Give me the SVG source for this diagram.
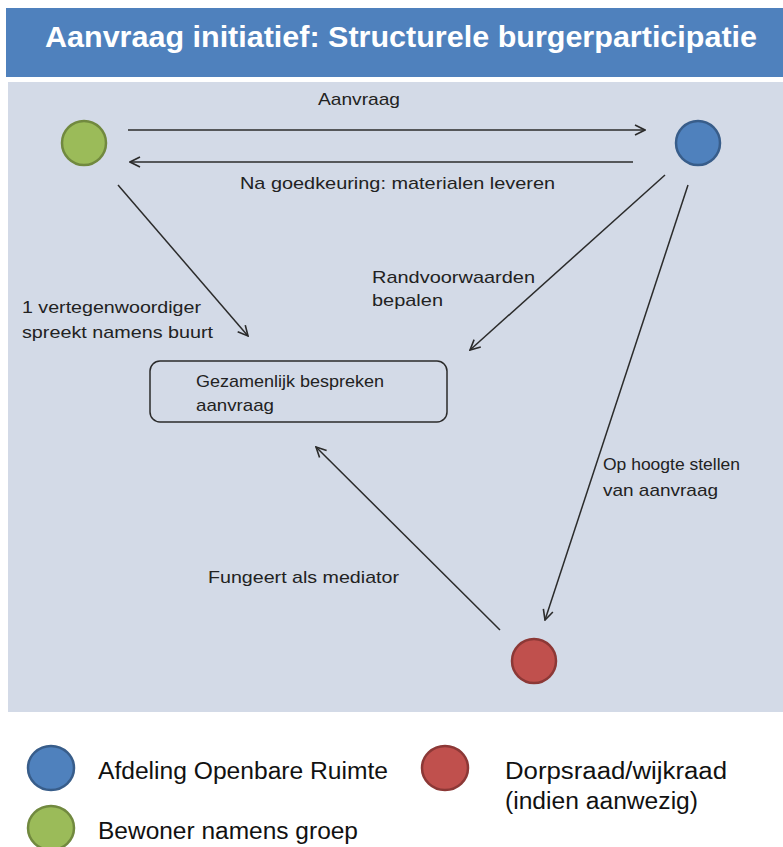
<svg xmlns="http://www.w3.org/2000/svg" width="783" height="847" viewBox="0 0 783 847">
<defs>
<marker id="ah" viewBox="0 0 12 12" refX="11" refY="6" markerWidth="12" markerHeight="12" markerUnits="userSpaceOnUse" orient="auto">
<path d="M1,1 L11,6 L1,11" fill="none" stroke="#2b2b2b" stroke-width="1.6"/>
</marker>
<style>
.lbl{font-family:"Liberation Sans",Arial,sans-serif;font-size:17px;fill:#222}
.leg{font-family:"Liberation Sans",Arial,sans-serif;font-size:23px;fill:#111}
.ttl{font-family:"Liberation Sans",Arial,sans-serif;font-size:29px;font-weight:bold;fill:#fff}
.con{stroke:#2b2b2b;stroke-width:1.5;fill:none;marker-end:url(#ah)}
.blue{fill:#4F81BD;stroke:#385D8A;stroke-width:2.5}
.green{fill:#9BBB59;stroke:#71893F;stroke-width:2.5}
.red{fill:#C0504D;stroke:#8C3836;stroke-width:2.5}
</style>
</defs>
<rect width="783" height="847" fill="#ffffff"/>
<g id="title">
<rect x="6" y="8" width="777" height="69" fill="#4F81BD"/>
<text class="ttl" x="45" y="47" textLength="712" lengthAdjust="spacingAndGlyphs">Aanvraag initiatief: Structurele burgerparticipatie</text>
</g>
<rect id="panel" x="8" y="82" width="775" height="630" fill="#D3DAE7"/>
<g id="connectors">
<line class="con" x1="128" y1="130" x2="645" y2="130"/>
<line class="con" x1="633" y1="162" x2="130" y2="162"/>
<line class="con" x1="118" y1="185" x2="248" y2="336"/>
<line class="con" x1="665" y1="175" x2="470" y2="350"/>
<line class="con" x1="688" y1="185" x2="545" y2="620"/>
<line class="con" x1="500" y1="630" x2="316" y2="447"/>
<text class="lbl" x="318" y="105" textLength="82" lengthAdjust="spacingAndGlyphs">Aanvraag</text>
<text class="lbl" x="240" y="189" textLength="315" lengthAdjust="spacingAndGlyphs">Na goedkeuring: materialen leveren</text>
<text class="lbl" x="372" y="283" textLength="163" lengthAdjust="spacingAndGlyphs">Randvoorwaarden</text>
<text class="lbl" x="372" y="306" textLength="71" lengthAdjust="spacingAndGlyphs">bepalen</text>
<text class="lbl" x="22" y="313" textLength="179" lengthAdjust="spacingAndGlyphs">1 vertegenwoordiger</text>
<text class="lbl" x="22" y="338" textLength="191" lengthAdjust="spacingAndGlyphs">spreekt namens buurt</text>
<text class="lbl" x="603" y="470" textLength="137" lengthAdjust="spacingAndGlyphs">Op hoogte stellen</text>
<text class="lbl" x="603" y="496" textLength="115" lengthAdjust="spacingAndGlyphs">van aanvraag</text>
<text class="lbl" x="208" y="583" textLength="191" lengthAdjust="spacingAndGlyphs">Fungeert als mediator</text>
</g>
<g id="node-bewoner"><circle class="green" cx="84" cy="143" r="22"/></g>
<g id="node-afdeling"><circle class="blue" cx="698" cy="143" r="22"/></g>
<g id="node-dorpsraad"><circle class="red" cx="534" cy="661" r="22"/></g>
<g id="node-bespreken">
<rect x="150" y="361" width="297" height="61" rx="10" fill="none" stroke="#2b2b2b" stroke-width="1.5"/>
<text class="lbl" x="196" y="387" textLength="188" lengthAdjust="spacingAndGlyphs">Gezamenlijk bespreken</text>
<text class="lbl" x="196" y="411" textLength="78" lengthAdjust="spacingAndGlyphs">aanvraag</text>
</g>
<g id="legend">
<ellipse class="blue" cx="51" cy="768" rx="23" ry="22"/>
<text class="leg" x="98" y="779" textLength="290" lengthAdjust="spacingAndGlyphs">Afdeling Openbare Ruimte</text>
<ellipse class="red" cx="445" cy="768" rx="23" ry="22"/>
<text class="leg" x="505" y="779" textLength="222" lengthAdjust="spacingAndGlyphs">Dorpsraad/wijkraad</text>
<text class="leg" x="505" y="809" textLength="193" lengthAdjust="spacingAndGlyphs">(indien aanwezig)</text>
<ellipse class="green" cx="51" cy="828" rx="23" ry="22"/>
<text class="leg" x="98" y="839" textLength="260" lengthAdjust="spacingAndGlyphs">Bewoner namens groep</text>
</g>
</svg>
